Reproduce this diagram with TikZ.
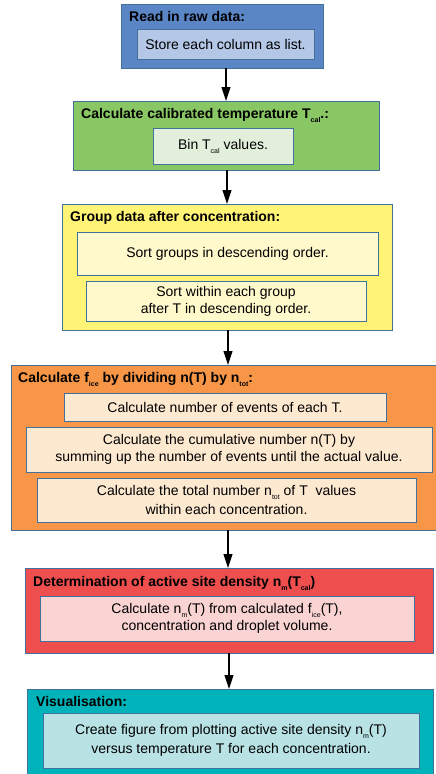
\documentclass[tikz,border=0pt]{standalone}
\usepackage{fontspec}
\setmainfont{Liberation Sans}
\usetikzlibrary{arrows.meta}
\definecolor{bordc}{HTML}{41719C}
\definecolor{blueO}{HTML}{5A86C6}
\definecolor{blueI}{HTML}{B4C7E7}
\definecolor{greenO}{HTML}{89C765}
\definecolor{greenI}{HTML}{E2EFDA}
\definecolor{yellowO}{HTML}{FFF475}
\definecolor{yellowI}{HTML}{FFF9CC}
\definecolor{orangeO}{HTML}{F79646}
\definecolor{orangeI}{HTML}{FDE8D0}
\definecolor{redO}{HTML}{EE4E4E}
\definecolor{redI}{HTML}{FAD3D3}
\definecolor{tealO}{HTML}{00B2BA}
\definecolor{tealI}{HTML}{B8E2E4}
\newcommand\lowsub[1]{\raisebox{-0.55ex}{\fontsize{7}{7}\selectfont #1}}
\begin{document}
\begin{tikzpicture}[x=1pt,y=-1pt,
  outerbox/.style={draw=bordc,line width=0.9pt,anchor=north west,inner sep=0pt,outer sep=0pt},
  innerbox/.style={draw=bordc,line width=0.9pt,anchor=north west,inner sep=0pt,outer sep=0pt,align=center,
     font=\fontsize{14}{17}\selectfont},
  titletext/.style={anchor=base west,inner sep=0pt,font=\fontsize{14}{17}\selectfont\bfseries},
  arr/.style={line width=1.1pt,-{Triangle[width=9pt,length=14pt]}}]
\useasboundingbox (0,0) rectangle (436,774);
\clip (0,0) rectangle (436,774);
% blue
\node[outerbox,fill=blueO,minimum width=202pt,minimum height=64pt] (b) at (121,4) {};
\node[titletext] (bt) at (129,21) {Read in raw data:};
\node[innerbox,fill=blueI,minimum width=177pt,minimum height=30pt] (b1) at (137,29) {Store each column as list.};
% green
\node[outerbox,fill=greenO,minimum width=306pt,minimum height=69pt] (g) at (73,101) {};
\node[titletext] (gt) at (81,118) {Calculate calibrated temperature T\lowsub{cal}.:};
\node[innerbox,fill=greenI,minimum width=140pt,minimum height=36pt] (g1) at (153,128) {Bin T\lowsub{cal} values.};
% yellow
\node[outerbox,fill=yellowO,minimum width=330pt,minimum height=126pt] (y) at (62,204) {};
\node[titletext] (yt) at (70,221) {Group data after concentration:};
\node[innerbox,fill=yellowI,minimum width=301pt,minimum height=43pt] (y1) at (77,232) {Sort groups in descending order.};
\node[innerbox,fill=yellowI,minimum width=280pt,minimum height=40pt] (y2) at (86,281) {Sort within each group\\after T in descending order.};
% orange
\node[outerbox,fill=orangeO,minimum width=440pt,minimum height=165pt] (o) at (11,365) {};
\node[titletext] (ot) at (18,382) {Calculate f\lowsub{ice} by dividing n(T) by n\lowsub{tot}:};
\node[innerbox,fill=orangeI,minimum width=322pt,minimum height=28pt] (o1) at (64,393) {Calculate number of events of each T.};
\node[innerbox,fill=orangeI,minimum width=406pt,minimum height=45pt] (o2) at (26,427) {Calculate the cumulative number n(T) by\\summing up the number of events until the actual value.};
\node[innerbox,fill=orangeI,minimum width=379pt,minimum height=44pt] (o3) at (37,478) {Calculate the total number n\lowsub{tot} of T~ values\\[2pt]within each concentration.};
% red
\node[outerbox,fill=redO,minimum width=408pt,minimum height=85pt] (r) at (25,568) {};
\node[titletext] (rt) at (33,586) {Determination of active site density n\lowsub{m}(T\lowsub{cal})};
\node[innerbox,fill=redI,minimum width=374pt,minimum height=45pt] (r1) at (40,596) {Calculate n\lowsub{m}(T) from calculated f\lowsub{ice}(T),\\concentration and droplet volume.};
% teal
\node[outerbox,fill=tealO,minimum width=406pt,minimum height=100pt] (t) at (27,689) {};
\node[titletext] (tt) at (36,706) {Visualisation:};
\node[innerbox,fill=tealI,minimum width=376pt,minimum height=55pt] (t1) at (43,713) {Create figure from plotting active site density n\lowsub{m}(T)\\[2pt]versus temperature T for each concentration.};
% arrows
\coordinate (a1) at (226,0);
\coordinate (a2) at (227,0);
\coordinate (a3) at (228,0);
\coordinate (a4) at (228,0);
\coordinate (a5) at (229,0);
\draw[arr] (b.south -| a1) -- (g.north -| a1);
\draw[arr] (g.south -| a2) -- (y.north -| a2);
\draw[arr] (y.south -| a3) -- (o.north -| a3);
\draw[arr] (o.south -| a4) -- (r.north -| a4);
\draw[arr] (r.south -| a5) -- (t.north -| a5);
\end{tikzpicture}
\end{document}
